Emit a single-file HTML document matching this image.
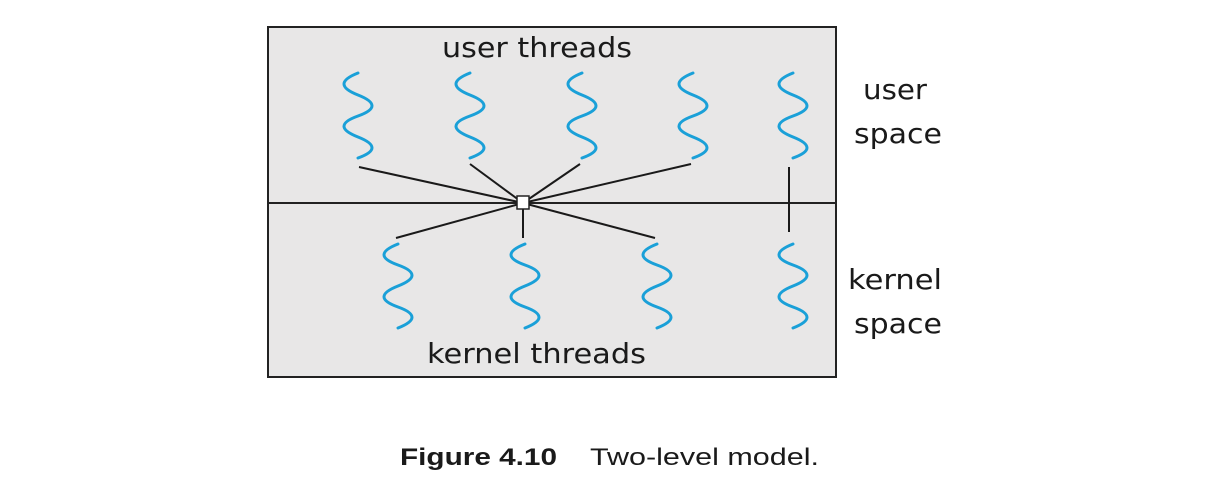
<!DOCTYPE html>
<html><head><meta charset="utf-8"><style>
html,body{margin:0;padding:0;background:#fff;}
svg{display:block;}
</style></head><body>
<svg width="1206" height="494" viewBox="0 0 1206 494" xmlns="http://www.w3.org/2000/svg">
<rect x="268" y="27" width="568" height="350" fill="#e8e7e7" stroke="#222" stroke-width="2"/>
<line x1="268" y1="203" x2="836" y2="203" stroke="#222" stroke-width="2"/>
<g stroke="#1a1a1a" stroke-width="2" fill="none">
<line x1="359" y1="167" x2="523" y2="203"/>
<line x1="470" y1="164" x2="523" y2="203"/>
<line x1="580" y1="164" x2="523" y2="203"/>
<line x1="691" y1="164" x2="523" y2="203"/>
<line x1="396" y1="238" x2="523" y2="203"/>
<line x1="523" y1="238" x2="523" y2="203"/>
<line x1="655" y1="238" x2="523" y2="203"/>
<line x1="789" y1="167" x2="789" y2="232"/>
</g>
<rect x="517" y="196" width="12" height="13" fill="#fff" stroke="#222" stroke-width="1.5"/>
<g stroke="#1aa0d8" stroke-width="3" fill="none" stroke-linecap="round">
<path d="M358 73 q-28 11 0 22 t0 21 t0 21 t0 21"/>
<path d="M470 73 q-28 11 0 22 t0 21 t0 21 t0 21"/>
<path d="M582 73 q-28 11 0 22 t0 21 t0 21 t0 21"/>
<path d="M693 73 q-28 11 0 22 t0 21 t0 21 t0 21"/>
<path d="M793 73 q-28 11 0 22 t0 21 t0 21 t0 21"/>
<path d="M398 244 q-28 11 0 21 t0 21 t0 21 t0 21"/>
<path d="M525 244 q-28 11 0 21 t0 21 t0 21 t0 21"/>
<path d="M657 244 q-28 11 0 21 t0 21 t0 21 t0 21"/>
<path d="M793 244 q-28 11 0 21 t0 21 t0 21 t0 21"/>
</g>
<g font-family="'DejaVu Sans','Liberation Sans',sans-serif" font-size="28" fill="#1a1a1a">
<text x="442" y="57" textLength="190" lengthAdjust="spacingAndGlyphs">user threads</text>
<text x="427" y="363" textLength="219" lengthAdjust="spacingAndGlyphs">kernel threads</text>
<text x="863" y="99" textLength="64" lengthAdjust="spacingAndGlyphs">user</text>
<text x="854" y="143" textLength="88" lengthAdjust="spacingAndGlyphs">space</text>
<text x="848" y="289" textLength="94" lengthAdjust="spacingAndGlyphs">kernel</text>
<text x="854" y="333" textLength="88" lengthAdjust="spacingAndGlyphs">space</text>
</g>
<g font-family="'Liberation Sans',Arial,sans-serif" font-size="24" fill="#1a1a1a">
<text x="400" y="465" font-weight="bold" textLength="157" lengthAdjust="spacingAndGlyphs">Figure 4.10</text>
<text x="590" y="465" textLength="229" lengthAdjust="spacingAndGlyphs">Two-level model.</text>
</g>
</svg>
</body></html>
